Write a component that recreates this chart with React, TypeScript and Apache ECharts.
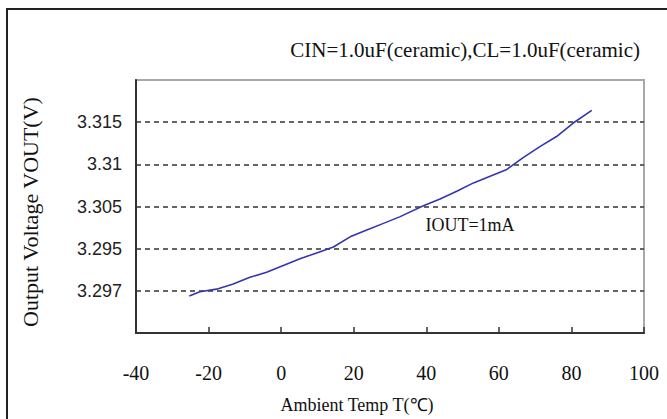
import React, { useEffect, useRef } from "react";
import * as echarts from "echarts";

const tempC = [-25.3, -22.4, -17.8, -13.2, -8.6, -4.0, 0.6, 5.2, 9.8, 14.4, 19.0, 23.6, 28.2, 32.8, 39.2, 43.8, 48.4, 53.0, 57.6, 62.2, 66.7, 71.3, 75.9, 80.5, 85.6];
const vout = [3.2944, 3.2949, 3.2952, 3.2958, 3.2966, 3.2972, 3.298, 3.2988, 3.2995, 3.3002, 3.3014, 3.3022, 3.303, 3.3038, 3.3051, 3.3059, 3.3068, 3.3078, 3.3086, 3.3094, 3.3108, 3.3121, 3.3133, 3.3149, 3.3164];
const yTickLabels = ["3.297", "3.295", "3.305", "3.31", "3.315"];
const yTickBase = 3.295;
const yTickStep = 0.005;

export default function App() {
  const ref = useRef<HTMLDivElement>(null);
  useEffect(() => {
    if (!ref.current) return;
    const chart = echarts.init(ref.current, null, { renderer: "svg" });
    const serif = "'Liberation Serif', 'Times New Roman', serif";
    const sans = "'Liberation Sans', Arial, sans-serif";
    chart.setOption({
      animation: false,
      backgroundColor: "#fff",
      grid: {
        left: 136,
        right: 23,
        top: 80,
        bottom: 86,
        show: true,
        borderColor: "#a8a8a8",
        borderWidth: 2,
      },
      xAxis: {
        type: "value",
        min: -40,
        max: 100,
        interval: 20,
        axisLine: { show: true, onZero: false, lineStyle: { color: "#333", width: 2 } },
        axisTick: { show: true, inside: true, length: 6, lineStyle: { color: "#333", width: 1.5 } },
        axisLabel: { margin: 30, fontFamily: serif, fontSize: 20, color: "#111" },
        splitLine: { show: false },
      },
      yAxis: {
        type: "value",
        min: 3.29,
        max: 3.32,
        interval: 0.005,
        axisLine: { show: true, onZero: false, lineStyle: { color: "#333", width: 2 } },
        axisTick: { show: false },
        axisLabel: {
          margin: 14,
          fontFamily: sans,
          fontSize: 18,
          color: "#222",
          formatter: (v: number) => {
            const k = Math.round((v - yTickBase) / yTickStep);
            return k >= 0 && k < yTickLabels.length ? yTickLabels[k] : "";
          },
        },
        splitLine: {
          show: true,
          showMinLine: false,
          showMaxLine: false,
          lineStyle: { color: "#333", width: 1.5, type: [5, 4] },
        },
      },
      series: [
        {
          type: "line",
          data: tempC.map((t, i) => [t, vout[i]]),
          symbol: "none",
          lineStyle: { color: "#3535b0", width: 1.6 },
          z: 5,
        },
      ],
      graphic: [
        {
          type: "rect",
          shape: { x: 7, y: 9, width: 720, height: 500 },
          style: { fill: "none", stroke: "#222", lineWidth: 2 },
          silent: true,
        },
        {
          type: "text",
          x: 640,
          y: 50,
          style: {
            text: "CIN=1.0uF(ceramic),CL=1.0uF(ceramic)",
            font: `21px ${serif}`,
            fill: "#111",
            textAlign: "right",
            textVerticalAlign: "middle",
          },
        },
        {
          type: "text",
          x: 470,
          y: 225,
          style: {
            text: "IOUT=1mA",
            font: `18px ${serif}`,
            fill: "#111",
            textAlign: "center",
            textVerticalAlign: "middle",
          },
        },
        {
          type: "text",
          x: 357,
          y: 405,
          style: {
            text: "Ambient Temp T(℃)",
            font: `18px ${serif}`,
            fill: "#111",
            textAlign: "center",
            textVerticalAlign: "middle",
          },
        },
        {
          type: "text",
          x: 30,
          y: 212,
          rotation: Math.PI / 2,
          style: {
            text: "Output Voltage VOUT(V)",
            font: `22px ${serif}`,
            fill: "#111",
            textAlign: "center",
            textVerticalAlign: "middle",
          },
        },
      ],
    });
    return () => chart.dispose();
  }, []);
  return <div ref={ref} style={{ width: 667, height: 419, position: "fixed", left: 0, top: 0 }} />;
}
